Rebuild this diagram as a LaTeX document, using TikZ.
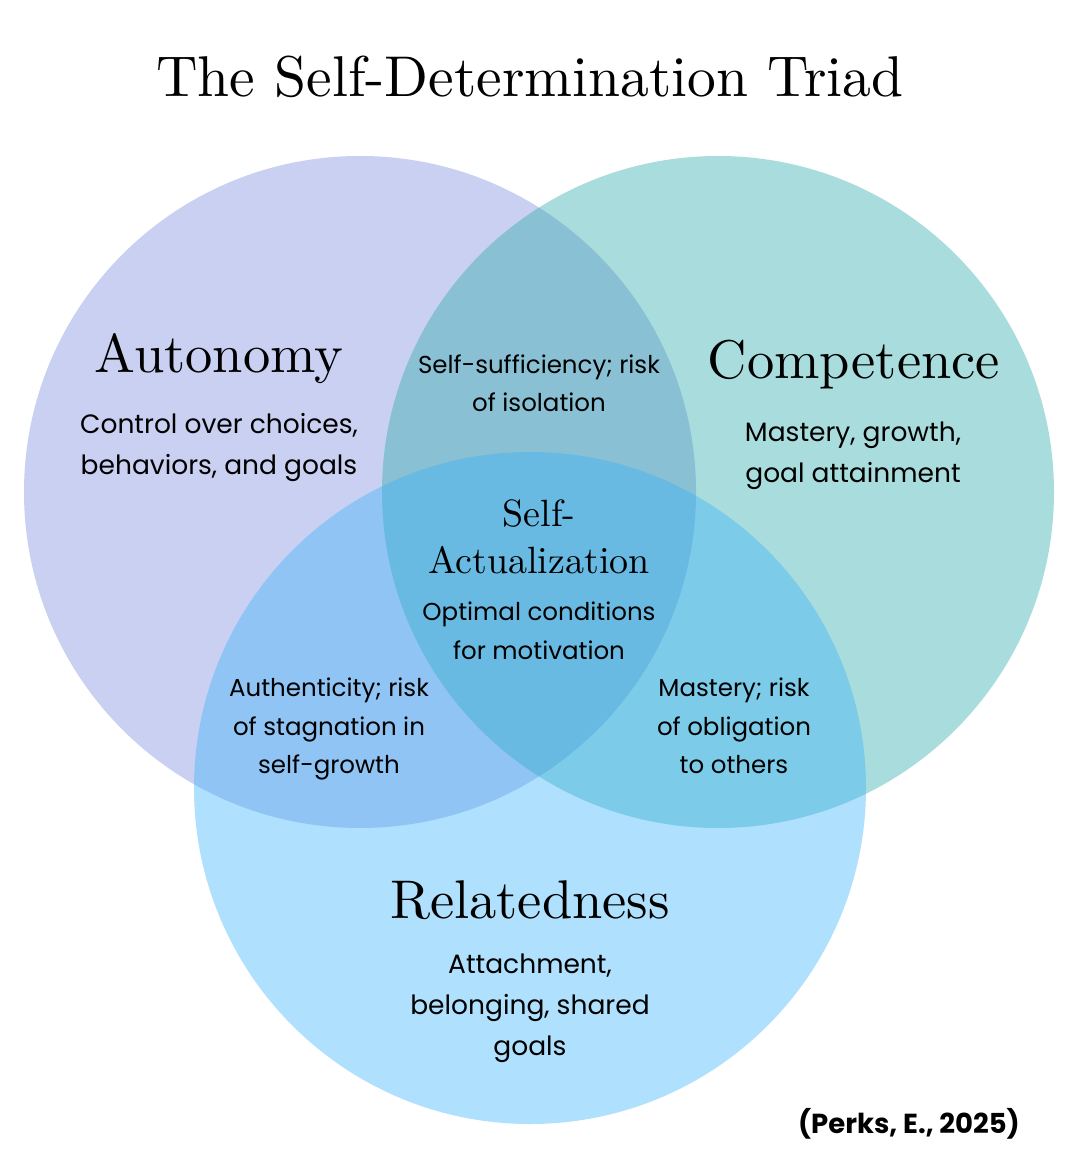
\documentclass[tikz,border=0pt]{standalone}
\usepackage{fontspec}
\newfontfamily\bodyfont{Poppins}
\newfontfamily\headfont{lmroman10-regular.otf}
\definecolor{autC}{RGB}{120,138,222}
\definecolor{comC}{RGB}{42,168,170}
\definecolor{relC}{RGB}{57,178,250}
\begin{document}
\begin{tikzpicture}[x=1pt,y=-1pt,
  circ/.style={circle,minimum size=672pt,inner sep=0pt,fill opacity=0.4,draw=none},
  head/.style={anchor=base,inner sep=0pt,font=\headfont\fontsize{54.5}{60}\selectfont},
  body/.style={align=center,inner sep=0pt,font=\bodyfont\fontsize{26.5}{41}\selectfont},
  ibody/.style={align=center,inner sep=0pt,font=\bodyfont\fontsize{24.5}{38.5}\selectfont},
]
\useasboundingbox[fill=white] (0,0) rectangle (1076,1166);
\node[circ,fill=autC] (aut) at (360,492) {};
\node[circ,fill=comC] (com) at (718,492) {};
\node[circ,fill=relC] (rel) at (530,788) {};
\node[anchor=base,inner sep=0pt,font=\headfont\fontsize{57.5}{64}\selectfont] (title) at (530,97) {The Self-Determination Triad};
\node[head] (autH) at (219,372) {Autonomy};
\node[head] (comH) at (854,378) {Competence};
\node[head] (relH) at (530,918) {Relatedness};
\node[anchor=base,inner sep=0pt,align=center,font=\headfont\fontsize{38}{47}\selectfont] (saH) at (539,573) {Self-\\Actualization};
\node[body] (autB) at (219,447) {Control over choices,\\behaviors, and goals};
\node[body] (comB) at (853,456) {Mastery, growth,\\goal attainment};
\node[ibody] (acB) at (539,383) {Self-sufficiency; risk\\of isolation};
\node[ibody] (saB) at (539,631) {Optimal conditions\\for motivation};
\node[ibody] (arB) at (329,729) {Authenticity; risk\\of stagnation in\\self-growth};
\node[ibody] (crB) at (734,726) {Mastery; risk\\of obligation\\to others};
\node[body] (relB) at (530,1008) {Attachment,\\belonging, shared\\goals};
\node[anchor=base east,inner sep=0pt,font=\bodyfont\bfseries\fontsize{27.5}{32}\selectfont] (cite) at (1020,1133) {(Perks, E., 2025)};
\end{tikzpicture}
\end{document}
